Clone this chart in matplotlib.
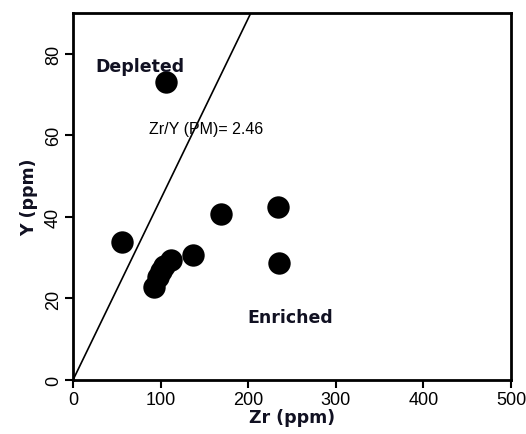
import matplotlib
matplotlib.use("Agg")
import matplotlib.pyplot as plt

# sample values
zr = [106, 56, 169, 137, 112, 92, 97, 101, 104, 234, 235]
y = [73.2, 33.8, 40.8, 30.7, 29.5, 22.7, 25.3, 26.8, 28.0, 42.5, 28.7]

# reference line through the origin as drawn
line_zr = [0, 203]
line_y = [0, 90]

plt.rcParams['font.family'] = ['Liberation Sans', 'DejaVu Sans']

fig = plt.figure(figsize=(5.26, 4.35), dpi=100)
ax = fig.add_axes([73 / 526, 1 - 381 / 435, (511 - 73) / 526, (381 - 14) / 435])

ax.plot(line_zr, line_y, color="black", linewidth=1.2, solid_capstyle="butt")
ax.scatter(zr, y, s=260, color="black", zorder=3, linewidths=0)

ax.text(76, 77, "Depleted", fontsize=12.5, fontweight="bold", family="DejaVu Sans",
        ha="center", va="center", color="#111122")
ax.text(248, 15.5, "Enriched", fontsize=12.5, fontweight="bold", family="DejaVu Sans",
        ha="center", va="center", color="#111122")
ax.text(87, 61.7, "Zr/Y (PM)= 2.46", fontsize=11.5, ha="left", va="center")

ax.set_xlim(0, 500)
ax.set_ylim(0, 90)
ax.set_xticks([0, 100, 200, 300, 400, 500])
ax.set_yticks([0, 20, 40, 60, 80])
for lbl in ax.get_yticklabels():
    lbl.set_rotation(90)
    lbl.set_va("center")
ax.tick_params(direction="out", length=6, width=1.5, labelsize=13, pad=2)

for sp in ax.spines.values():
    sp.set_linewidth(2)

ax.set_xlabel("Zr (ppm)", fontsize=12.5, fontweight="bold", family="DejaVu Sans",
              labelpad=0, color="#111122")
ax.set_ylabel("Y (ppm)", fontsize=12.5, fontweight="bold", family="DejaVu Sans",
              labelpad=5, color="#111122")

fig.savefig("out.png", dpi=100)
